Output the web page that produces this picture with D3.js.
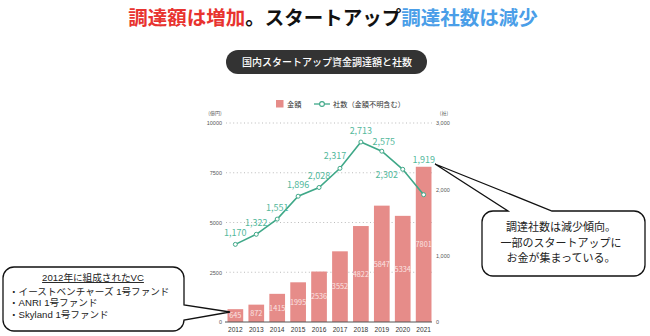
<!DOCTYPE html>
<html>
<head>
<meta charset="utf-8">
<script src="https://cdn.jsdelivr.net/npm/d3@7"></script>
<style>
  html, body { margin: 0; padding: 0; background: #fff; }
  svg { display: block; font-family: "Noto Sans CJK JP", "Noto Sans", sans-serif; }
  .note { font-family: "Liberation Sans", "Noto Sans CJK JP", sans-serif; }
</style>
</head>
<body>
<svg id="chart" width="650" height="336"></svg>
<script>
// 年ごとの資金調達額（億円）と調達社数
const years = ["2012", "2013", "2014", "2015", "2016", "2017", "2018", "2019", "2020", "2021"];
const amounts = [645, 872, 1415, 1995, 2536, 3552, 4822, 5847, 5334, 7801];
const counts = [1170, 1322, 1551, 1896, 2028, 2317, 2713, 2575, 2302, 1919];
const amountTicks = [0, 2500, 5000, 7500, 10000];
const countTicks = [0, 1000, 2000, 3000];

const barColor = "#e68c89";
const lineColor = "#3fa888";
const labelColor = "#52b89b";

const svg = d3.select("#chart");

// 見出し
const title = svg.append("text")
  .attr("x", 333).attr("y", 25)
  .attr("text-anchor", "middle")
  .attr("font-size", 19.5).attr("font-weight", 700);
title.append("tspan").attr("fill", "#e8332f").text("調達額は増加");
title.append("tspan").attr("fill", "#111").text("。スタートアップ");
title.append("tspan").attr("fill", "#4a9ee8").text("調達社数は減少");

// グラフタイトルのピル
svg.append("rect").attr("x", 226).attr("y", 50).attr("width", 201).attr("height", 24)
  .attr("rx", 12).attr("fill", "#333");
svg.append("text").attr("x", 327).attr("y", 65.5).attr("text-anchor", "middle")
  .attr("font-size", 10).attr("fill", "#fff").attr("font-weight", 500)
  .text("国内スタートアップ資金調達額と社数");

// 凡例
svg.append("rect").attr("x", 276).attr("y", 100).attr("width", 7.5).attr("height", 7.5).attr("fill", barColor);
svg.append("text").attr("x", 287).attr("y", 106.8).attr("font-size", 7.2).attr("fill", "#333").text("金額");
svg.append("line").attr("x1", 314).attr("x2", 330).attr("y1", 104).attr("y2", 104)
  .attr("stroke", lineColor).attr("stroke-width", 1.3);
svg.append("circle").attr("cx", 322).attr("cy", 104).attr("r", 2.4)
  .attr("fill", "#fff").attr("stroke", lineColor).attr("stroke-width", 1.1);
svg.append("text").attr("x", 333).attr("y", 106.8).attr("font-size", 7.2).attr("fill", "#333").text("社数（金額不明含む）");

// スケール
const x = d3.scaleBand().domain(years).range([225, 434]).paddingInner(0.25).paddingOuter(0.12);
const yL = d3.scaleLinear().domain([0, 10000]).range([322, 123]);
const yR = d3.scaleLinear().domain([0, 3000]).range([322, 123]);

// 単位
svg.append("text").attr("x", 215).attr("y", 115).attr("text-anchor", "middle")
  .attr("font-size", 5).attr("fill", "#555").text("(億円)");
svg.append("text").attr("x", 444).attr("y", 115).attr("text-anchor", "middle")
  .attr("font-size", 5).attr("fill", "#555").text("(社)");

// 補助線（点線）
svg.append("g").selectAll("line").data(amountTicks.filter(d => d > 0)).join("line")
  .attr("x1", 226).attr("x2", 432)
  .attr("y1", d => yL(d)).attr("y2", d => yL(d))
  .attr("stroke", "#aaa").attr("stroke-width", 0.8).attr("stroke-dasharray", "1,2.6");

// 左軸
const leftAxis = svg.append("g").attr("transform", "translate(224,0)")
  .call(d3.axisLeft(yL).tickValues(amountTicks).tickSize(0).tickPadding(2).tickFormat(d3.format("d")));
leftAxis.select(".domain").remove();
leftAxis.selectAll("text").attr("font-size", 5.5).attr("fill", "#555").attr("font-family", "inherit");

// 右軸
const rightAxis = svg.append("g").attr("transform", "translate(434,0)")
  .call(d3.axisRight(yR).tickValues(countTicks).tickSize(0).tickPadding(2).tickFormat(d3.format(",")));
rightAxis.select(".domain").remove();
rightAxis.selectAll("text").attr("font-size", 5.5).attr("fill", "#555").attr("font-family", "inherit");

// 棒（金額）
svg.append("g").selectAll("rect").data(amounts).join("rect")
  .attr("x", (d, i) => x(years[i]))
  .attr("y", d => yL(d))
  .attr("width", x.bandwidth())
  .attr("height", d => yL(0) - yL(d))
  .attr("fill", barColor);

// 棒の値ラベル
svg.append("g").selectAll("text").data(amounts).join("text")
  .attr("x", (d, i) => x(years[i]) + x.bandwidth() / 2)
  .attr("y", d => (yL(d) + yL(0)) / 2 + 2.7)
  .attr("text-anchor", "middle")
  .attr("font-size", 7.3).attr("fill", "#fbe4e3")
  .text(d => d);

// 基線
svg.append("line").attr("x1", 225).attr("x2", 432).attr("y1", 322).attr("y2", 322)
  .attr("stroke", "#555").attr("stroke-width", 1);

// 年ラベル
const bottomAxis = svg.append("g").attr("transform", "translate(0,322)")
  .call(d3.axisBottom(x).tickSize(0).tickPadding(5));
bottomAxis.select(".domain").remove();
bottomAxis.selectAll("text").attr("font-size", 6.6).attr("fill", "#333").attr("font-family", "inherit");

// 折れ線（社数）
const cx = (i) => x(years[i]) + x.bandwidth() / 2;
const line = d3.line().x((d, i) => cx(i)).y(d => yR(d));
svg.append("path").datum(counts).attr("d", line)
  .attr("fill", "none").attr("stroke", lineColor).attr("stroke-width", 1.6);
svg.append("g").selectAll("circle").data(counts).join("circle")
  .attr("cx", (d, i) => cx(i)).attr("cy", d => yR(d)).attr("r", 2)
  .attr("fill", "#fff").attr("stroke", lineColor).attr("stroke-width", 1);

// 社数ラベル：基本は点の上、下降局面の2020は左下、最終年は棒の上
function countLabelPos(d, i) {
  const px = cx(i), py = yR(d);
  if (years[i] === "2020") return [px - 16, py + 9];
  if (i === counts.length - 1) return [px, yL(amounts[i]) - 4];
  if (years[i] === "2017") return [px - 5, py - 9];
  if (years[i] === "2019") return [px + 2, py - 6];
  return [px, py - 8];
}
svg.append("g").selectAll("text").data(counts).join("text")
  .attr("x", (d, i) => countLabelPos(d, i)[0])
  .attr("y", (d, i) => countLabelPos(d, i)[1])
  .attr("text-anchor", "middle")
  .attr("font-size", 9).attr("fill", labelColor)
  .text(d => d3.format(",")(d));

// 吹き出し（左）：2012年の棒を指す
function calloutLeft(x0, y0, x1, y1, r, tail) {
  const p = d3.path();
  p.moveTo(x0 + r, y0);
  p.lineTo(x1 - r, y0);
  p.arcTo(x1, y0, x1, y0 + r, r);
  p.lineTo(x1, tail.y0);
  p.lineTo(tail.tx, tail.ty);
  p.lineTo(x1, tail.y1);
  p.lineTo(x1, y1 - r);
  p.arcTo(x1, y1, x1 - r, y1, r);
  p.lineTo(x0 + r, y1);
  p.arcTo(x0, y1, x0, y1 - r, r);
  p.lineTo(x0, y0 + r);
  p.arcTo(x0, y0, x0 + r, y0, r);
  p.closePath();
  return p.toString();
}
svg.append("path")
  .attr("d", calloutLeft(3, 267, 184, 331, 11, { y0: 305, y1: 320, tx: 230, ty: 312 }))
  .attr("fill", "#fff").attr("stroke", "#111").attr("stroke-width", 1.3).attr("stroke-linejoin", "miter");

svg.append("text").attr("class", "note").attr("x", 93).attr("y", 281).attr("text-anchor", "middle")
  .attr("font-size", 9.6).attr("fill", "#222").attr("text-decoration", "underline")
  .text("2012年に組成されたVC");
const vcLines = ["・イーストベンチャーズ 1号ファンド", "・ANRI 1号ファンド", "・Skyland 1号ファンド"];
svg.append("g").selectAll("text").data(vcLines).join("text")
  .attr("class", "note")
  .attr("x", 9).attr("y", (d, i) => 294.5 + i * 11.6)
  .attr("font-size", 9.6).attr("fill", "#222")
  .text(d => d);

// 吹き出し（右）：2021年の社数を指す
function calloutTop(x0, y0, x1, y1, r, tail) {
  const p = d3.path();
  p.moveTo(x0 + r, y0);
  p.lineTo(tail.x0, y0);
  p.lineTo(tail.tx, tail.ty);
  p.lineTo(tail.x1, y0);
  p.lineTo(x1 - r, y0);
  p.arcTo(x1, y0, x1, y0 + r, r);
  p.lineTo(x1, y1 - r);
  p.arcTo(x1, y1, x1 - r, y1, r);
  p.lineTo(x0 + r, y1);
  p.arcTo(x0, y1, x0, y1 - r, r);
  p.lineTo(x0, y0 + r);
  p.arcTo(x0, y0, x0 + r, y0, r);
  p.closePath();
  return p.toString();
}
svg.append("path")
  .attr("d", calloutTop(482, 211, 645, 276, 11, { x0: 508, x1: 552, tx: 435, ty: 164 }))
  .attr("fill", "#fff").attr("stroke", "#111").attr("stroke-width", 1.3).attr("stroke-linejoin", "miter");

const noteLines = ["調達社数は減少傾向。", "一部のスタートアップに", "お金が集まっている。"];
svg.append("g").selectAll("text").data(noteLines).join("text")
  .attr("class", "note")
  .attr("x", 561).attr("y", (d, i) => 231 + i * 15.5)
  .attr("text-anchor", "middle")
  .attr("font-size", 11).attr("fill", "#222")
  .text(d => d);
</script>
</body>
</html>
